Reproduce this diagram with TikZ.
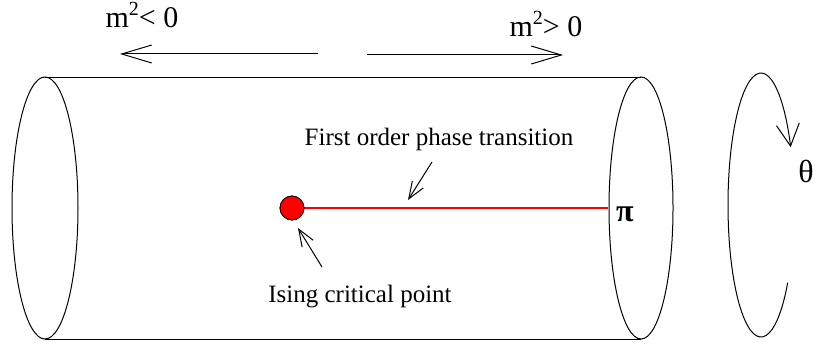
\documentclass[tikz,border=0pt]{standalone}
\usepackage{fontspec}
\setmainfont{Liberation Serif}
\usetikzlibrary{arrows.meta}
\tikzset{
  thin line/.style={line width=1pt, black},
  big barb/.style={thin line, -{Straight Barb[length=30pt,width=18pt]}},
  small barb/.style={thin line, -{Straight Barb[length=17pt,width=13pt]}},
  rot barb/.style={thin line, -{Straight Barb[length=22pt,width=23pt]}},
  lbl/.style={inner sep=0pt, font=\fontsize{25}{30}\selectfont},
  mlbl/.style={inner sep=0pt, anchor=base, font=\fontsize{30}{34}\selectfont},
  greek/.style={inner sep=0pt, font=\fontsize{32}{36}\selectfont},
}
\begin{document}
\begin{tikzpicture}[x=1pt,y=-1pt]
\useasboundingbox (0,0) rectangle (813,345);
% cylinder
\draw[thin line] (45,208) ellipse[x radius=33, y radius=131];
\draw[thin line] (641,208) ellipse[x radius=32, y radius=131];
\draw[thin line] (45,77) -- (641,77);
\draw[thin line] (45,339) -- (641,339);
% top arrows and labels
\coordinate (lstart) at (318,54);
\coordinate (ltip) at (120,54);
\coordinate (rstart) at (367,55);
\coordinate (rtip) at (563,55);
\draw[big barb] (lstart) -- (ltip);
\draw[big barb] (rstart) -- (rtip);
\node[mlbl] (mneg) at (142,28) {m\raisebox{0.4em}{\fontsize{20}{22}\selectfont 2}< 0};
\node[mlbl] (mpos) at (546,37) {m\raisebox{0.4em}{\fontsize{20}{22}\selectfont 2}> 0};
% phase transition line and critical point
\coordinate (piend) at (608,208);
\node[circle, fill=red, draw=black, line width=0.8pt, minimum size=24pt, inner sep=0pt] (crit) at (292,208) {};
\draw[red, line width=2pt] (crit.east) -- (piend);
\node[circle, fill=red, draw=black, line width=0.8pt, minimum size=24pt, inner sep=0pt] at (crit) {};
\node[greek, font=\fontsize{32}{36}\selectfont\bfseries] (pi) at (625,214) {π};
% labels with arrows
\node[lbl, anchor=base] (fopt) at (439,145) {First order phase transition};
\node[lbl, anchor=base] (icp) at (360,302) {Ising critical point};
\coordinate (fs) at (432,162);
\coordinate (ft) at (408,200);
\coordinate (is) at (322,267);
\coordinate (it) at (298,228);
\draw[small barb] (fs) -- (ft);
\draw[small barb] (is) -- (it);
% rotation arrow
\coordinate (rotstart) at (787.7,282.6);
\draw[rot barb] (rotstart) arc[start angle=36, end angle=334, x radius=33, y radius=132];
\node[greek] (theta) at (806,171) {θ};
\end{tikzpicture}
\end{document}
